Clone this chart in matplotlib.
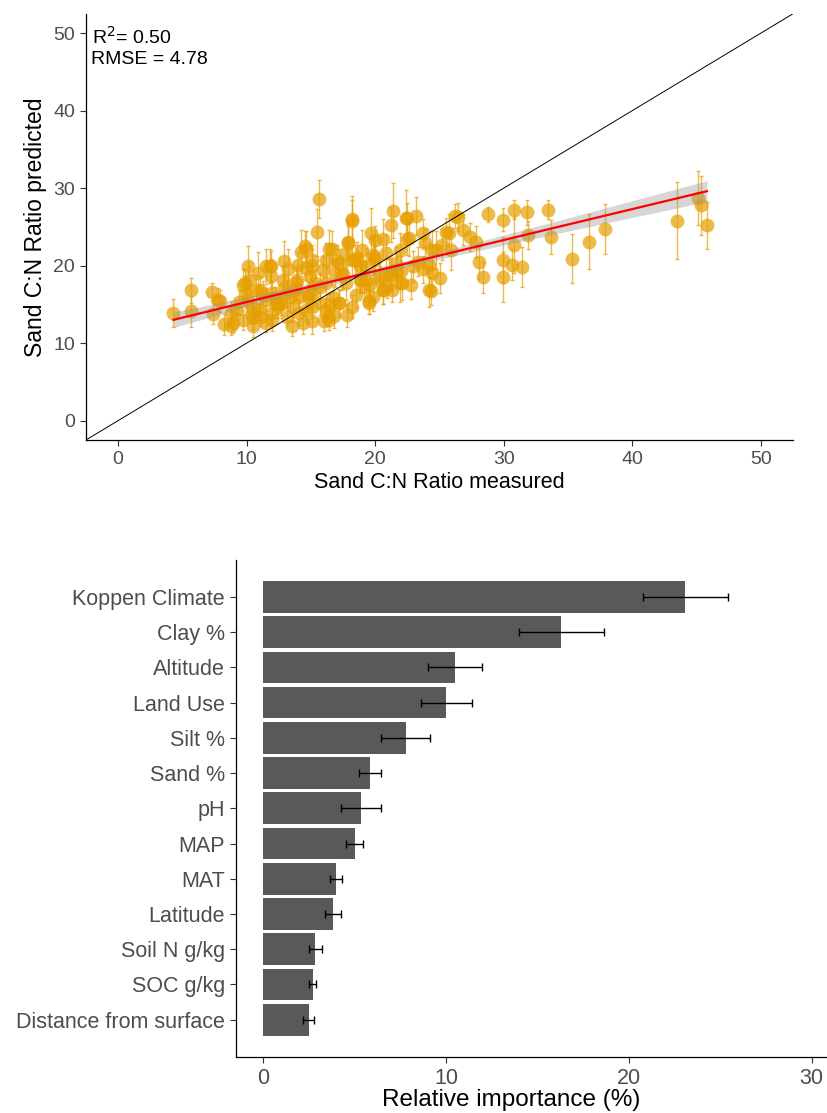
import matplotlib
matplotlib.use("Agg")
import matplotlib.pyplot as plt
import numpy as np

plt.rcParams['font.family'] = ['Liberation Sans', 'DejaVu Sans']

# ---- top panel: measured vs predicted sand C:N ----
meas = [4.3, 5.7, 5.7, 7.3, 7.8, 7.4, 8.2, 8.8, 8.8, 10.1, 10.9, 9.85, 9.98, 9.7, 10.5,
        11.0, 11.5, 15.6, 15.5, 14.6, 14.2, 12.9, 11.8, 16.4, 17.0, 17.9, 14.0, 15.1,
        16.3, 17.2, 9.7, 15.1, 14.4, 12.0, 11.0, 10.4,
        18.2, 21.4, 21.2, 22.4, 23.2, 26.2, 19.7, 20.6, 17.9, 22.5, 23.7, 24.7, 25.5,
        18.4, 19.8, 24.2, 25.0, 24.2, 22.8, 21.9, 20.6, 19.5, 18.2, 19.3, 18.8,
        26.4, 26.8, 28.8, 29.9, 30.8, 31.8, 33.4, 25.7, 27.4, 27.8, 31.9, 33.7, 30.8,
        25.9, 28.1, 29.9, 30.6, 31.4, 28.4, 29.9, 35.3, 36.6, 37.9, 43.5, 45.1, 45.3, 45.8,
        7.9, 8.9, 11.9, 13.2, 14.5, 16.6, 18.2, 20.0, 22.5, 22.6, 23.9, 24.4, 25.2,
        22.9, 23.7, 24.4, 24.3, 22.1, 21.3, 20.6, 19.5, 17.2, 16.4, 11.5, 10.5,
        10.75, 11.9, 12.8, 13.85, 14.9, 15.7, 16.7, 17.7, 18.8, 19.3, 18.2, 17.2, 16.2,
        15.1, 14.6, 11.5, 12.6, 13.6, 14.6, 15.7, 11.0, 12.0, 13.1, 14.1, 15.1, 16.2,
        13.1, 14.1, 15.1, 16.2, 12.0, 10.5, 10.0, 9.2, 19.8, 20.3, 21.1, 21.6, 20.8,
        21.9, 20.0, 19.0, 17.7, 12.4, 13.4, 16.9, 18.6, 19.1, 20.4, 21.7, 17.5, 15.3,
        13.8, 12.2, 16.0, 17.8, 19.9, 22.0, 23.3, 14.8, 12.7, 11.3, 9.4, 18.9, 20.9,
        12.9, 13.9, 14.8, 16.5, 17.4, 18.5, 12.3, 15.9, 19.6, 21.2, 13.5, 16.8, 10.2]
pred = [13.9, 14.1, 16.8, 16.6, 15.6, 13.8, 12.4, 12.2, 13.9, 19.9, 19.0, 17.7, 16.5, 13.0, 13.3,
        16.9, 19.9, 28.6, 24.3, 22.2, 21.8, 20.6, 20.0, 22.2, 20.7, 22.9, 20.1, 19.9,
        13.4, 15.2, 17.5, 12.8, 12.6, 13.0, 13.4, 13.9,
        26.0, 27.1, 25.3, 26.2, 26.4, 26.4, 24.2, 23.4, 23.0, 23.4, 24.2, 22.0, 24.3,
        20.7, 21.4, 20.1, 18.4, 16.9, 17.5, 17.7, 16.9, 15.4, 14.7, 18.2, 19.9,
        26.3, 24.6, 26.6, 25.9, 27.2, 26.9, 27.2, 24.2, 23.7, 23.1, 24.0, 23.7, 22.7,
        22.0, 20.5, 20.7, 20.1, 19.8, 18.5, 18.5, 20.9, 23.1, 24.7, 25.8, 28.7, 27.8, 25.2,
        15.4, 12.6, 19.9, 19.5, 22.5, 22.2, 25.8, 23.3, 26.1, 23.5, 22.9, 22.0, 22.7,
        19.9, 19.5, 19.0, 16.7, 17.7, 16.9, 16.9, 15.2, 15.2, 13.0, 12.6, 12.2,
        16.9, 18.6, 18.2, 17.7, 18.6, 17.3, 16.0, 17.7, 18.2, 19.9, 20.7, 20.3, 20.7,
        20.7, 19.7, 15.6, 15.2, 14.7, 14.3, 15.2, 14.3, 13.9, 13.4, 13.9, 14.7, 14.3,
        16.5, 16.0, 16.5, 17.7, 16.5, 14.7, 15.6, 14.3, 16.0, 18.6, 19.0, 20.3, 21.6,
        22.0, 20.7, 22.0, 21.6, 14.8, 15.9, 19.0, 21.0, 17.2, 18.1, 19.2, 18.9, 17.8,
        17.0, 15.8, 12.9, 13.6, 21.1, 19.3, 20.5, 16.3, 15.0, 16.2, 15.3, 18.3, 17.4,
        17.1, 18.1, 16.0, 14.9, 18.8, 16.2, 15.0, 19.4, 17.6, 18.8, 12.2, 13.5, 18.1]
pred_se = [1.8, 2.0, 1.6, 1.2, 1.5, 1.4, 1.3, 1.2, 1.5, 2.6, 2.8, 1.8, 2.0, 1.3, 1.5,
           1.8, 2.3, 2.4, 3.0, 2.3, 2.8, 2.6, 2.2, 2.4, 2.0, 2.8, 1.7, 2.2,
           1.2, 1.8, 2.0, 1.6, 1.4, 1.5, 1.2, 1.3,
           3.0, 3.6, 2.2, 3.5, 2.4, 1.6, 3.2, 2.6, 2.2, 2.0, 1.8, 2.5, 1.8,
           2.0, 2.6, 2.8, 1.9, 2.2, 1.8, 2.4, 1.8, 1.6, 1.5, 2.2, 1.9,
           1.8, 2.0, 1.0, 1.5, 1.2, 1.6, 1.2, 2.4, 1.8, 2.0, 1.8, 2.2, 3.6,
           2.6, 2.2, 3.0, 2.0, 2.6, 2.0, 3.2, 3.2, 3.5, 3.2, 5.0, 3.5, 3.8, 3.0,
           1.4, 1.3, 2.0, 2.6, 2.0, 2.2, 2.6, 1.8, 2.0, 2.2, 1.8, 2.4, 2.0,
           2.0, 1.7, 1.5, 1.8, 2.2, 1.6, 1.9, 1.5, 1.6, 1.3, 1.2, 1.4,
           1.9, 2.2, 1.7, 2.0, 1.6, 1.8, 1.5, 2.1, 1.7, 2.4, 2.0, 1.8, 2.2,
           1.9, 1.6, 1.5, 1.3, 1.8, 1.4, 1.6, 1.3, 1.5, 1.2, 1.6, 1.4, 1.5,
           1.7, 1.6, 1.9, 2.0, 1.5, 1.4, 1.6, 1.3, 1.8, 2.2, 1.9, 2.1, 2.4,
           2.2, 1.8, 2.6, 2.0, 1.5, 1.6, 1.8, 2.0, 1.7, 1.9, 2.1, 1.8, 1.6,
           1.5, 1.4, 1.3, 1.5, 2.2, 2.0, 1.9, 1.6, 1.4, 1.8, 1.5, 1.7, 1.6,
           1.6, 1.8, 1.5, 1.4, 2.0, 1.7, 1.3, 1.9, 1.6, 2.1, 1.3, 1.5, 1.8]

# fitted line (geom_smooth lm)
fit_x = [4.3, 10.0, 18.0, 25.0, 35.0, 45.8]
fit_y = [13.0, 15.3, 18.5, 21.3, 25.3, 29.6]
fit_half = [1.0, 0.6, 0.35, 0.45, 0.85, 1.35]

r2_text = "R$^{2}$= 0.50"
rmse_text = "RMSE = 4.78"

# ---- bottom panel: variable importance ----
variables = ["Koppen Climate", "Clay %", "Altitude", "Land Use", "Silt %", "Sand %", "pH",
             "MAP", "MAT", "Latitude", "Soil N g/kg", "SOC g/kg", "Distance from surface"]
importance = [23.1, 16.3, 10.5, 10.0, 7.8, 5.85, 5.35, 5.0, 3.95, 3.8, 2.85, 2.7, 2.47]
importance_se = [2.33, 2.33, 1.47, 1.4, 1.34, 0.6, 1.09, 0.46, 0.33, 0.42, 0.37, 0.2, 0.31]

fig = plt.figure(figsize=(8.27, 11.13), dpi=100)
grey_txt = "#4D4D4D"
orange = "#E69F00"

ax1 = fig.add_axes([0.104, 0.6047, 0.855, 0.383])
ax1.errorbar(meas, pred, yerr=pred_se, fmt="none", ecolor=orange, elinewidth=1.0,
             capsize=1.5, alpha=0.7, zorder=2)
ax1.plot(meas, pred, "o", color=orange, ms=10, alpha=0.7, mec="none", zorder=3)
fx = np.array(fit_x)
fy = np.array(fit_y)
fh = np.array(fit_half)
ax1.fill_between(fx, fy - fh, fy + fh, color="#999999", alpha=0.4, lw=0, zorder=4)
ax1.plot(fx, fy, color="red", lw=1.6, zorder=5)
ax1.axline((0, 0), slope=1, color="black", lw=0.7, zorder=6)
ax1.set_xlim(-2.5, 52.5)
ax1.set_ylim(-2.5, 52.5)
ax1.set_xticks([0, 10, 20, 30, 40, 50])
ax1.set_yticks([0, 10, 20, 30, 40, 50])
ax1.text(-2.0, 48.6, r2_text, fontsize=14, va="baseline")
ax1.text(-2.1, 46.0, rmse_text, fontsize=14, va="baseline")
ax1.set_xlabel("Sand C:N Ratio measured", fontsize=15.5, labelpad=3)
ax1.set_ylabel("Sand C:N Ratio predicted", fontsize=16.5, labelpad=4)
for s in ["top", "right"]:
    ax1.spines[s].set_visible(False)
for s in ["left", "bottom"]:
    ax1.spines[s].set_linewidth(0.9)
ax1.tick_params(colors="#333333", labelcolor=grey_txt, labelsize=14, length=4, width=0.8,
                pad=4)

ax2 = fig.add_axes([0.2854, 0.0506, 0.729, 0.4463])
pos = np.arange(len(variables))[::-1] + 1
ax2.barh(pos, importance, height=0.9, color="#595959", zorder=2)
ax2.errorbar(importance, pos, xerr=importance_se, fmt="none", ecolor="black",
             elinewidth=1.0, capsize=3, capthick=1.0, zorder=3)
ax2.set_yticks(pos)
ax2.set_yticklabels(variables)
ax2.set_ylim(1 - 1.05, len(variables) + 1.05)
ax2.set_xlim(-1.5, 31.5)
ax2.set_xticks([0, 10, 20, 30])
ax2.set_xlabel("Relative importance (%)", fontsize=17.5)
ax2.xaxis.set_label_coords(0.456, -0.065)
for s in ["top", "right"]:
    ax2.spines[s].set_visible(False)
for s in ["left", "bottom"]:
    ax2.spines[s].set_linewidth(0.9)
ax2.tick_params(colors="#333333", labelcolor=grey_txt, labelsize=15.5, length=4, width=0.8,
                pad=4)

fig.savefig("out.png", dpi=100)
